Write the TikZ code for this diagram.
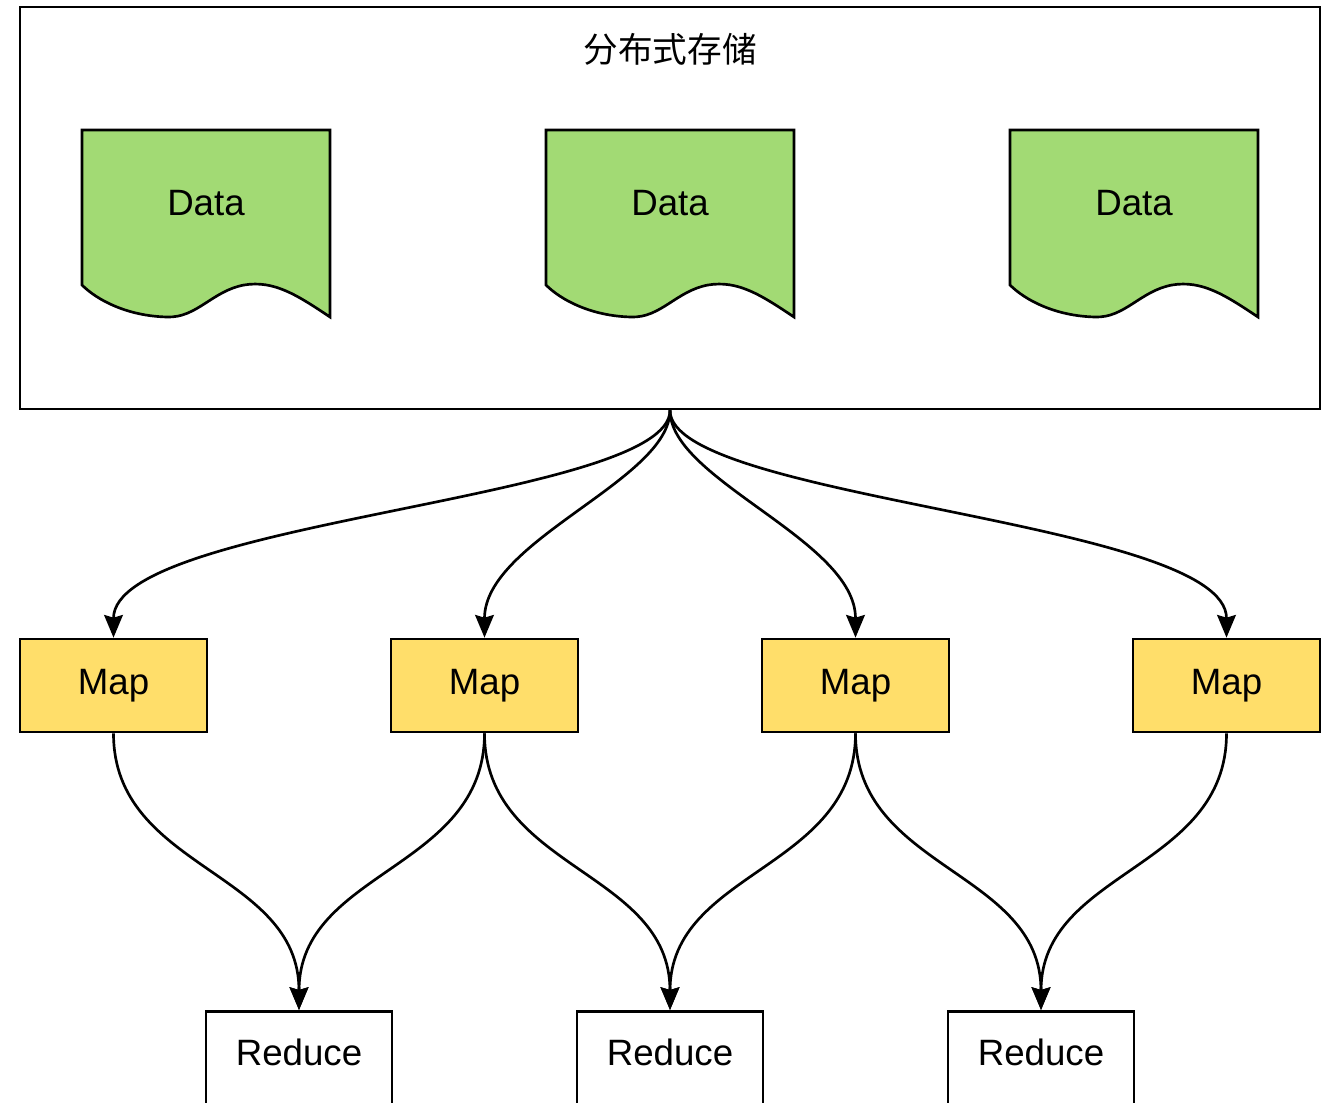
\documentclass[tikz,border=0pt]{standalone}
\usepackage{fontspec}
\setmainfont{Liberation Sans}
\newfontfamily\cjk{Noto Sans CJK SC}
\usetikzlibrary{arrows.meta}
\definecolor{datagreen}{RGB}{162,218,116}
\definecolor{mapyellow}{RGB}{255,222,106}
\tikzset{
  lw/.style={line width=2pt},
  mapbox/.style={draw, lw, fill=mapyellow, minimum width=140.25pt, minimum height=69.75pt, inner sep=0pt, font=\fontsize{27.5pt}{30pt}\selectfont},
  redbox/.style={draw, lw, fill=white, minimum width=139.5pt, minimum height=75pt, inner sep=0pt, anchor=north},
  redlabel/.style={font=\fontsize{27.5pt}{30pt}\selectfont},
  datashape/.style={draw, lw, fill=datagreen, line join=miter},
  datalabel/.style={font=\fontsize{27.5pt}{30pt}\selectfont},
  conn/.style={draw, lw, -{Stealth[length=17pt,width=14pt,inset=2pt]}},
}
\newcommand{\datadoc}[1]{%
  \path[datashape] (#1,130) -- (#1+248,130) -- (#1+248,317)
    .. controls (#1+215,295) and (#1+192,280) .. (#1+162,285)
    .. controls (#1+130,291) and (#1+115,318) .. (#1+85,317)
    .. controls (#1+45,316) and (#1+15,300) .. (#1,285) -- cycle;
}
\begin{document}
\begin{tikzpicture}[x=0.75pt,y=-0.75pt]
\useasboundingbox (0,0) rectangle (1332,1103);
\fill[white] (0,0) rectangle (1332,1103);
% storage box
\node[draw, lw, minimum width=975pt, minimum height=301.5pt, inner sep=0pt] (store) at (670,208) {};
\node[font=\cjk\fontsize{26pt}{28pt}\selectfont] (title) at (670,49) {分布式存储};
% data documents
\datadoc{82}
\datadoc{546}
\datadoc{1010}
\node[datalabel] (d1) at (206,203) {Data};
\node[datalabel] (d2) at (670,203) {Data};
\node[datalabel] (d3) at (1134,203) {Data};
% maps
\node[mapbox] (m1) at (113.5,685.5) {Map};
\node[mapbox] (m2) at (484.5,685.5) {Map};
\node[mapbox] (m3) at (855.5,685.5) {Map};
\node[mapbox] (m4) at (1226.5,685.5) {Map};
% reduces (box continues below the picture's edge)
\node[redbox] (r1) at (299,1010) {};
\node[redbox] (r2) at (670,1010) {};
\node[redbox] (r3) at (1041,1010) {};
\node[redlabel] (r1t) at (299,1052) {Reduce};
\node[redlabel] (r2t) at (670,1052) {Reduce};
\node[redlabel] (r3t) at (1041,1052) {Reduce};
% storage -> maps
\draw[conn] (store.south) .. controls (670,500) and (113.5,520) .. (m1.north);
\draw[conn] (store.south) .. controls (670,480) and (484.5,540) .. (m2.north);
\draw[conn] (store.south) .. controls (670,480) and (855.5,540) .. (m3.north);
\draw[conn] (store.south) .. controls (670,500) and (1226.5,520) .. (m4.north);
% maps -> reduces
\draw[conn] (m1.south) .. controls (113.5,870) and (299,870) .. (r1.north);
\draw[conn] (m2.south) .. controls (484.5,870) and (299,870) .. (r1.north);
\draw[conn] (m2.south) .. controls (484.5,870) and (670,870) .. (r2.north);
\draw[conn] (m3.south) .. controls (855.5,870) and (670,870) .. (r2.north);
\draw[conn] (m3.south) .. controls (855.5,870) and (1041,870) .. (r3.north);
\draw[conn] (m4.south) .. controls (1226.5,870) and (1041,870) .. (r3.north);
\end{tikzpicture}
\end{document}
